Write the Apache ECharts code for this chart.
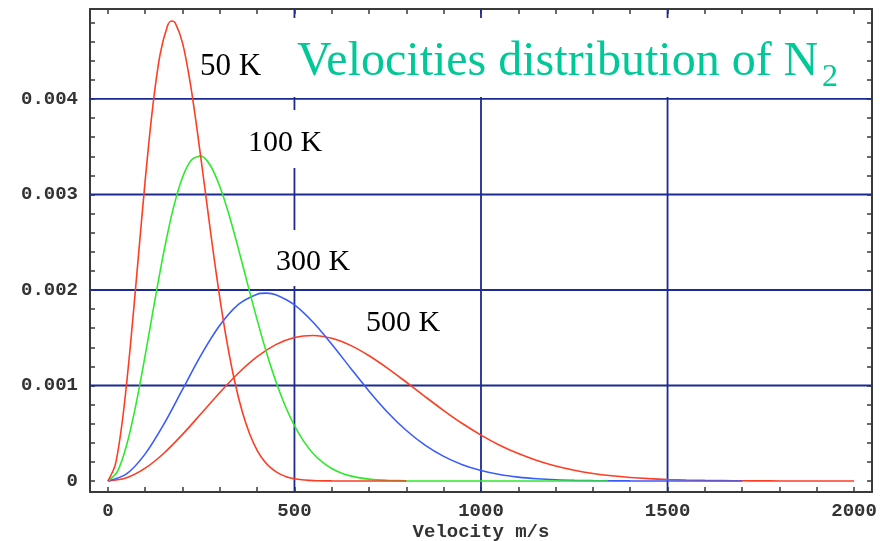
<!DOCTYPE html>
<html>
<head>
<meta charset="utf-8">
<script src="https://cdn.jsdelivr.net/npm/echarts@6/dist/echarts.min.js"></script>
<style>
html,body{margin:0;padding:0;background:#fff;}
#chart{width:880px;height:541px;}
</style>
</head>
<body>
<div id="chart"></div>
<script>
// ---- data ----
const v50 = [0,20,40,60,80,100,120,140,160,170,180,200,220,240,260,280,300,320,340,360,380,400,420,440,460,480,500,520,540,560,600,800];
const f50 = [0,0.000174,0.000669,0.001407,0.002276,0.003150,0.003912,0.004469,0.004769,0.004817,0.004800,0.004587,0.004183,0.003651,0.003060,0.002466,0.001915,0.001435,0.001039,0.000727,0.000492,0.000322,0.000204,0.000126,0.000075,0.000043,0.000024,0.000013,0.000007,0.000003,0.000001,0];

const v100 = [0,25,50,75,100,125,150,175,200,225,250,275,300,325,350,375,400,425,450,475,500,525,550,575,600,625,650,675,700,725,750,775,800,1340];
const f100 = [0,0.000096,0.000374,0.000798,0.001318,0.001873,0.002402,0.002852,0.003181,0.003366,0.003402,0.003301,0.003083,0.002782,0.002428,0.002054,0.001687,0.001345,0.001044,0.000788,0.000579,0.000415,0.000289,0.000197,0.000131,0.000085,0.000054,0.000033,0.000020,0.000012,0.000007,0.000004,0.000002,0];

const v300 = [0,50,100,150,200,250,300,350,400,425,450,500,550,600,650,700,750,800,850,900,950,1000,1050,1100,1150,1200,1250,1300,1350,1400,1700];
const f300 = [0,0.000074,0.000284,0.000595,0.000959,0.001321,0.001630,0.001849,0.001956,0.001967,0.001950,0.001844,0.001662,0.001432,0.001184,0.000940,0.000718,0.000529,0.000376,0.000258,0.000171,0.000110,0.000068,0.000041,0.000024,0.000013,0.000007,0.000004,0.000002,0.000001,0];

const v500 = [0,50,100,150,200,250,300,350,400,450,500,550,600,650,700,750,800,850,900,950,1000,1050,1100,1150,1200,1250,1300,1350,1400,1450,1500,1550,1600,1650,1700,1750,1800,2000];
const f500 = [0,0.0000346,0.000135,0.000291,0.000488,0.000706,0.000927,0.001131,0.001302,0.001428,0.001503,0.001524,0.001494,0.001420,0.001312,0.001180,0.001034,0.000884,0.000738,0.000602,0.000481,0.000375,0.000287,0.000215,0.000157,0.000113,0.0000795,0.0000549,0.0000371,0.0000246,0.0000160,0.0000103,0.0000064,0.0000039,0.0000024,0.0000014,0.0000008,0];

const xTickLabels = [0, 500, 1000, 1500, 2000];
const yTickLabels = [0, 0.001, 0.002, 0.003, 0.004];
const xGridLines = [500, 1000, 1500];
const yGridLines = [0.001, 0.002, 0.003, 0.004];
const curveNames = ['50 K', '100 K', '300 K', '500 K'];
const titleText = 'Velocities distribution of N';
const titleSub = '2';
const xAxisTitle = 'Velocity m/s';

// ---- build ----
const X_MIN = -48, X_MAX = 2048, Y_MIN = -0.000115, Y_MAX = 0.004942;
function pairs(xs, ys){ return xs.map((x,i)=>[x, ys[i]]); }
const xMinor = []; for (let k = 0; k <= 20; k++) xMinor.push(k*100);
const yMinor = []; for (let k = 0; k <= 24; k++) yMinor.push(k/5000);

const monoFont = {fontFamily:'Liberation Mono', fontSize:19, fontWeight:'bold', color:'#333'};
const frame = {show:true, onZero:false, lineStyle:{color:'#3a3a3a', width:2}};
const tickStyle = {color:'#3a3a3a', width:1.5};

const chart = echarts.init(document.getElementById('chart'), null, {renderer:'canvas'});
const lineCommon = {type:'line', showSymbol:false, smooth:0.3, silent:true, z:3};
const gridStyle = {color:'#1c2a92', width:1.8};

const gridSeries = [
  ...xGridLines.map(x => ({type:'line', silent:true, showSymbol:false, z:1, lineStyle:gridStyle,
      data:[[x, Y_MIN],[x, Y_MAX]]})),
  ...yGridLines.map(y => ({type:'line', silent:true, showSymbol:false, z:1, lineStyle:gridStyle,
      data:[[X_MIN, y],[X_MAX, y]]}))
];

const option = {
  animation:false,
  backgroundColor:'#fff',
  grid:{left:90, right:8, top:9, bottom:49, show:false, containLabel:false, outerBoundsMode:'none'},
  xAxis:[{
    type:'value', min:X_MIN, max:X_MAX, position:'bottom',
    axisLine:frame,
    axisTick:{show:true, inside:true, length:5, customValues:xMinor, lineStyle:tickStyle},
    axisLabel:{customValues:xTickLabels, margin:10, ...monoFont, formatter:v=>String(v)},
    splitLine:{show:false},
    name:xAxisTitle, nameLocation:'middle', nameGap:31, nameMoveOverlap:false,
    nameTextStyle:{...monoFont}
  },{
    type:'value', min:X_MIN, max:X_MAX, position:'top',
    axisLine:frame,
    axisTick:{show:true, inside:true, length:5, customValues:xMinor, lineStyle:tickStyle},
    axisLabel:{show:false}, splitLine:{show:false}
  }],
  yAxis:[{
    type:'value', min:Y_MIN, max:Y_MAX, position:'left',
    axisLine:frame,
    axisTick:{show:true, inside:true, length:5, customValues:yMinor, lineStyle:tickStyle},
    axisLabel:{customValues:yTickLabels, margin:12, ...monoFont, formatter:v=> v===0 ? '0' : v.toFixed(3)},
    splitLine:{show:false}
  },{
    type:'value', min:Y_MIN, max:Y_MAX, position:'right',
    axisLine:frame,
    axisTick:{show:true, inside:true, length:5, customValues:yMinor, lineStyle:tickStyle},
    axisLabel:{show:false}, splitLine:{show:false}
  }],
  series:[
    ...gridSeries,
    {...lineCommon, name:curveNames[3], data:pairs(v500,f500), lineStyle:{color:'#ff3d24', width:1.6}},
    {...lineCommon, name:curveNames[2], data:pairs(v300,f300), lineStyle:{color:'#3a5cff', width:1.6}},
    {...lineCommon, name:curveNames[1], data:pairs(v100,f100), lineStyle:{color:'#2eea2e', width:1.6}},
    {...lineCommon, name:curveNames[0], data:pairs(v50,f50), lineStyle:{color:'#ff3d24', width:1.6}}
  ],
  graphic:{elements:[
    {type:'rect', z:50, shape:{x:288, y:18, width:568, height:79}, style:{fill:'#fff'}},
    {type:'rect', z:50, shape:{x:240, y:110, width:95, height:58}, style:{fill:'#fff'}},
    {type:'rect', z:50, shape:{x:270, y:230, width:80, height:56}, style:{fill:'#fff'}},
    {type:'rect', z:50, shape:{x:350, y:298, width:100, height:43}, style:{fill:'#fff'}},
    {type:'text', z:60, x:297, y:62, style:{text:titleText, font:'48px "Liberation Serif"', fill:'#00c896', textAlign:'left', textVerticalAlign:'middle', align:'left', verticalAlign:'middle'}},
    {type:'text', z:60, x:822, y:78, style:{text:titleSub, font:'32px "Liberation Serif"', fill:'#00c896', textAlign:'left', textVerticalAlign:'middle', align:'left', verticalAlign:'middle'}},
    {type:'text', z:60, x:200, y:67, style:{text:curveNames[0], font:'31px "Liberation Serif"', fill:'#000', textAlign:'left', textVerticalAlign:'middle', align:'left', verticalAlign:'middle'}},
    {type:'text', z:60, x:248, y:143, style:{text:curveNames[1], font:'30px "Liberation Serif"', fill:'#000', textAlign:'left', textVerticalAlign:'middle', align:'left', verticalAlign:'middle'}},
    {type:'text', z:60, x:276, y:262, style:{text:curveNames[2], font:'30px "Liberation Serif"', fill:'#000', textAlign:'left', textVerticalAlign:'middle', align:'left', verticalAlign:'middle'}},
    {type:'text', z:60, x:366, y:323, style:{text:curveNames[3], font:'30px "Liberation Serif"', fill:'#000', textAlign:'left', textVerticalAlign:'middle', align:'left', verticalAlign:'middle'}}
  ]}
};
chart.setOption(option);
</script>
</body>
</html>
